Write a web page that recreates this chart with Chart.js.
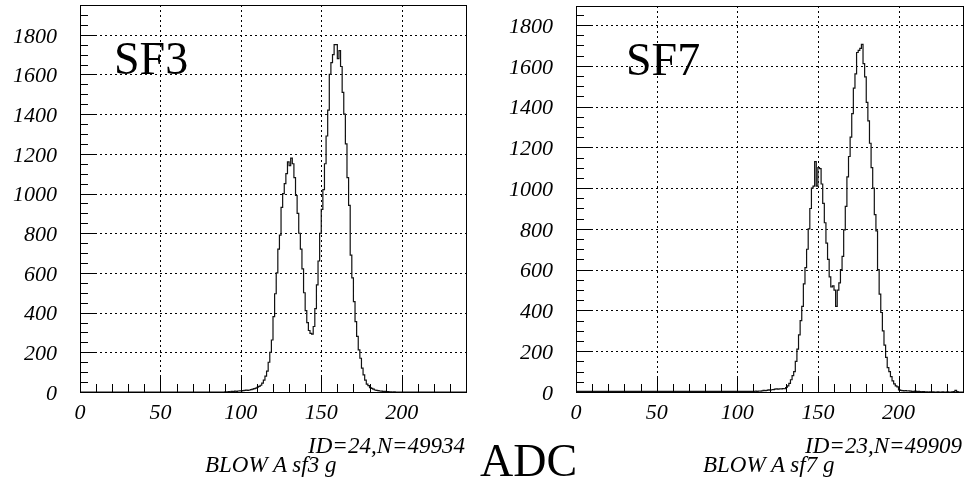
<!DOCTYPE html>
<html>
<head>
<meta charset="utf-8">
<script src="https://cdn.jsdelivr.net/npm/chart.js@4"></script>
<style>
  html, body { margin: 0; padding: 0; background: #fff; }
  body { position: relative; width: 964px; height: 482px; overflow: hidden; font-family: "Liberation Serif", "Times New Roman", serif; color: #000; }
  canvas { position: absolute; top: 0; }
  .lbl { position: absolute; line-height: 1; white-space: nowrap; }
  .big { font-size: 46px; }
  .info { font-size: 23px; font-style: italic; }
</style>
</head>
<body>
<canvas id="sf3-chart" width="480" height="482" style="left:0"></canvas>
<canvas id="sf7-chart" width="484" height="482" style="left:480px"></canvas>

<div class="lbl big" style="left:114px; top:36px">SF3</div>
<div class="lbl big" style="left:626px; top:37px">SF7</div>
<div class="lbl info" style="right:499px; top:434px">ID=24,N=49934</div>
<div class="lbl info" style="left:205px; top:453px">BLOW A sf3 g</div>
<div class="lbl info" style="right:2px; top:434px">ID=23,N=49909</div>
<div class="lbl info" style="left:703px; top:453px">BLOW A sf7 g</div>
<div class="lbl" style="left:480px; top:438px; font-size:46px">ADC</div>

<script>
// histogram bins are 1 ADC count wide, first bin given by the *Start value
const sf3Start = 90;
const sf3Counts = [
    0, 1, 0, 2, 1, 3, 2, 4, 3, 5,
    6, 5, 7, 8, 9, 8, 10, 12, 14, 17,
    20, 24, 28, 34, 45, 60, 80, 105, 150, 200,
    262, 380, 495, 600, 720, 790, 930, 1000, 1050, 1100,
    1160, 1140, 1178, 1150, 1080, 990, 900, 800, 720, 620,
    500, 410, 350, 310, 295, 292, 330, 420, 540, 660,
    800, 920, 1020, 1150, 1290, 1420, 1600, 1660, 1700, 1750,
    1750, 1680, 1720, 1640, 1510, 1400, 1250, 1080, 940, 690,
    575, 455, 355, 280, 212, 170, 120, 86, 60, 40,
    32, 22, 18, 14, 10, 8, 7, 5, 4, 3,
    3, 2, 2, 1, 1, 0, 1, 0, 0, 0
];

const sf7Start = 110;
const sf7Counts = [
    3, 2, 4, 3, 5, 4, 6, 8, 7, 8,
    10, 9, 11, 12, 14, 15, 14, 16, 15, 17,
    16, 22, 30, 42, 60, 80, 100, 150, 210, 280,
    350, 420, 530, 610, 700, 800, 900, 1000, 1010, 1130,
    1010, 1100, 1095, 1020, 925, 830, 730, 650, 565, 515,
    520, 500, 420, 500, 535, 600, 665, 795, 910, 1055,
    1155, 1250, 1365, 1490, 1560, 1665, 1675, 1685, 1705, 1610,
    1545, 1420, 1330, 1220, 1100, 1000, 870, 790, 600, 480,
    390, 300, 230, 170, 120, 100, 75, 55, 40, 30,
    25, 10, 8, 7, 6, 7, 5, 6, 4, 3,
    3, 4, 2, 3, 2, 1, 2, 1, 1, 0,
    1, 0, 1, 0, 0, 1, 0, 0, 1, 0,
    0, 1, 0, 0, 1, 2, 8, 2, 0, 0
];

const xTicks = [0, 50, 100, 150, 200];
const yTicks = [0, 200, 400, 600, 800, 1000, 1200, 1400, 1600, 1800];
const X_MAX = 240;

const tickFont = {family: "'Liberation Serif', 'Times New Roman', serif", style: "italic", size: 22};

function histPoints(start, counts) {
    const pts = [{x: 0, y: 0}];
    counts.forEach((c, i) => pts.push({x: start + i, y: c}));
    pts.push({x: start + counts.length, y: 0});
    pts.push({x: X_MAX, y: 0});
    return pts;
}

// PAW style frame: dotted grid at labelled ticks, inward tick marks, box
const pawFrame = {
    id: "pawFrame",
    beforeDatasetsDraw(chart) {
        const {ctx, chartArea: a, scales: {x, y}} = chart;
        ctx.save();
        ctx.strokeStyle = "#000";
        ctx.lineWidth = 1;
        ctx.setLineDash([2, 3]);
        ctx.beginPath();
        xTicks.forEach(v => {
            if (v === 0) return;
            const px = Math.round(x.getPixelForValue(v)) + 0.5;
            ctx.moveTo(px, a.top);
            ctx.lineTo(px, a.bottom);
        });
        yTicks.forEach(v => {
            if (v === 0) return;
            const py = Math.round(y.getPixelForValue(v)) + 0.5;
            ctx.moveTo(a.left, py);
            ctx.lineTo(a.right, py);
        });
        ctx.stroke();
        ctx.restore();
    },
    afterDatasetsDraw(chart) {
        const {ctx, chartArea: a, scales: {x, y}} = chart;
        ctx.save();
        ctx.strokeStyle = "#000";
        ctx.lineWidth = 1;
        ctx.beginPath();
        for (let v = 0; v <= X_MAX; v += 10) {
            const px = Math.round(x.getPixelForValue(v)) + 0.5;
            const len = v % 50 === 0 ? 16 : 8;
            ctx.moveTo(px, a.bottom);
            ctx.lineTo(px, a.bottom - len);
        }
        for (let v = 0; v <= y.max; v += 50) {
            const py = Math.round(y.getPixelForValue(v)) + 0.5;
            const len = v % 200 === 0 ? 16 : 8;
            ctx.moveTo(a.left, py);
            ctx.lineTo(a.left + len, py);
        }
        ctx.stroke();
        ctx.strokeRect(Math.round(a.left) + 0.5, Math.round(a.top) + 0.5,
            Math.round(a.right - a.left), Math.round(a.bottom - a.top));
        ctx.restore();
    }
};

function buildHist(id, start, counts, yMax, yAxisWidth, pad) {
    const ctx = document.getElementById(id).getContext("2d");
    return new Chart(ctx, {
        type: "line",
        data: {
            datasets: [{
                data: histPoints(start, counts),
                stepped: "after",
                borderColor: "#111",
                borderWidth: 1.2,
                pointRadius: 0,
                fill: false
            }]
        },
        options: {
            responsive: false,
            animation: false,
            devicePixelRatio: 1,
            layout: {padding: pad},
            plugins: {legend: {display: false}, tooltip: {enabled: false}},
            scales: {
                x: {
                    type: "linear",
                    min: 0,
                    max: X_MAX,
                    grid: {display: false, drawTicks: false},
                    border: {display: false},
                    afterBuildTicks: s => { s.ticks = xTicks.map(v => ({value: v})); },
                    afterFit: s => { s.height = 90; s.paddingLeft = 0; s.paddingRight = 0; },
                    ticks: {font: tickFont, color: "#000", padding: 8, maxRotation: 0, autoSkip: false, callback: v => String(v)}
                },
                y: {
                    type: "linear",
                    min: 0,
                    max: yMax,
                    grid: {display: false, drawTicks: false},
                    border: {display: false},
                    afterBuildTicks: s => { s.ticks = yTicks.map(v => ({value: v})); },
                    afterFit: s => { s.width = yAxisWidth; s.paddingTop = 0; s.paddingBottom = 0; },
                    ticks: {font: tickFont, color: "#000", padding: 23, labelOffset: 2, autoSkip: false, callback: v => String(v)}
                }
            }
        },
        plugins: [pawFrame]
    });
}

buildHist("sf3-chart", sf3Start, sf3Counts, 1950, 80, {top: 5, right: 14, left: 0, bottom: 0});
buildHist("sf7-chart", sf7Start, sf7Counts, 1893, 96, {top: 6, right: 1, left: 0, bottom: 0});
</script>
</body>
</html>
